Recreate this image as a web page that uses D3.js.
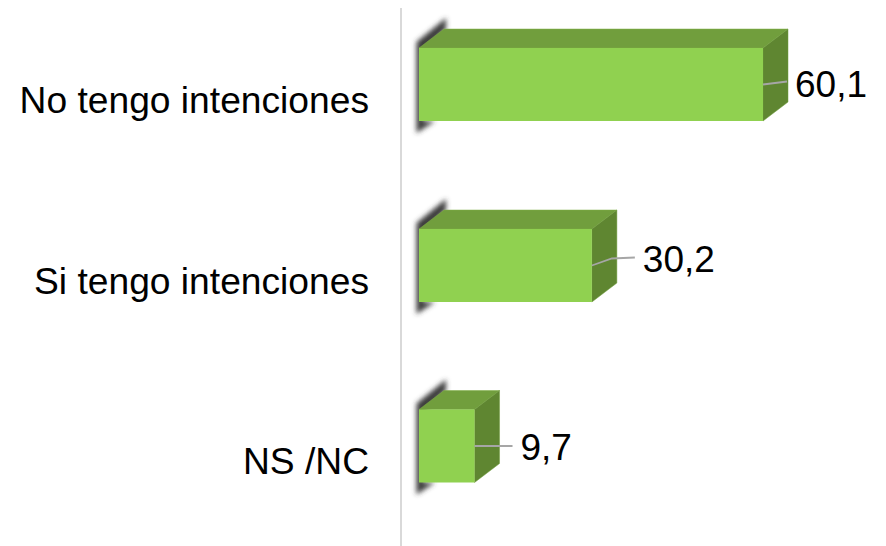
<!DOCTYPE html>
<html><head><meta charset="utf-8">
<script src="https://cdn.jsdelivr.net/npm/d3@7"></script>
<style>html,body{margin:0;padding:0;background:#fff}svg{display:block}text{font-family:"Liberation Sans",Arial,sans-serif;fill:#000}</style>
</head><body><div id="c"></div>
<script>
const categories = ["No tengo intenciones","Si tengo intenciones","NS /NC"];
const values = [60.1,30.2,9.7];
const valueLabels = ["60,1","30,2","9,7"];

const W=886,H=546;
const dx=25,dy=19;
const bandCentres=[84.5,265.5,446];
const leaders=[{tx:32,ty:12,bend:[[24,-3]]},{tx:51,ty:6,bend:[[20,-7],[43,-8]]},{tx:46,ty:14,bend:[[38,0]]}];
const svg=d3.select("#c").append("svg").attr("width",W).attr("height",H);
const defs=svg.append("defs");
defs.append("filter").attr("id","sh").attr("x","-30%").attr("y","-30%").attr("width","160%").attr("height","160%")
  .append("feGaussianBlur").attr("stdDeviation",2.4);
const x=d3.scaleLinear().domain([0,60.1]).range([419,763]);
const pts=a=>a.map(p=>p.join(",")).join(" ");

svg.append("line").attr("x1",401).attr("x2",401).attr("y1",8).attr("y2",546).attr("stroke","#d9d9d9").attr("stroke-width",2);

categories.forEach((c,i)=>{
  const x0=x(0),x1=x(values[i]),bw=73,cy=bandCentres[i];
  const t=cy-36.5,b=t+bw;
  const g=svg.append("g");
  g.append("polygon").attr("filter","url(#sh)").attr("fill","#3a3a3a")
   .attr("points",pts([[416.5,t-6],[x0+27,t-dy-11],[x0+27,t-dy],[x0+4,t+4],[x0+4,b],[x0+16,b],[416.5,b+12]]));
  g.append("polygon").attr("fill","#719e3d").attr("stroke","#7fae45").attr("stroke-width",.5)
   .attr("points",pts([[x0,t],[x0+dx,t-dy],[x1+dx,t-dy],[x1,t]]));
  g.append("polygon").attr("fill","#5f8631").attr("stroke","#6f9c3c").attr("stroke-width",.5)
   .attr("points",pts([[x1,t],[x1+dx,t-dy],[x1+dx,b-dy],[x1,b]]));
  g.append("rect").attr("x",x0).attr("y",t).attr("width",x1-x0).attr("height",bw).attr("fill","#90d150");
  const L=leaders[i];
  g.append("polyline").attr("fill","none").attr("stroke","#a6a6a6").attr("stroke-width",1.8)
   .attr("points",pts([[x1,cy],...L.bend.map(p=>[x1+p[0],cy+p[1]])]));
  svg.append("text").attr("x",369).attr("y",cy+28).attr("text-anchor","end").attr("font-size",37.2).text(c);
  svg.append("text").attr("x",x1+L.tx).attr("y",cy+L.ty).attr("font-size",37).text(valueLabels[i]);
});
</script></body></html>
